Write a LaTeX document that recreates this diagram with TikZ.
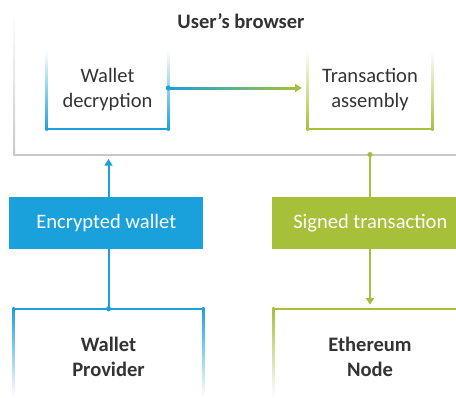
\documentclass[tikz,border=0pt]{standalone}
\usepackage{fontspec}
\setmainfont{Carlito}
\usetikzlibrary{arrows.meta,calc}
\definecolor{bl}{RGB}{26,160,219}
\definecolor{gr}{RGB}{166,192,58}
\definecolor{gy}{RGB}{200,200,200}
\definecolor{tx}{RGB}{51,51,51}
\begin{document}
\begin{tikzpicture}[x=0.75pt,y=-0.75pt,
  lbl/.style={font=\fontsize{15.4}{18.75}\selectfont, text=tx, align=center, inner sep=0pt},
  bld/.style={lbl, font=\fontsize{15.4}{18.75}\selectfont\bfseries},
  filled/.style={lbl, text=white, minimum width=#1, minimum height=39pt},
  ln/.style={line width=1.5pt},
  tip/.style={-{Triangle[width=6pt,length=5pt]}},
  dot/.style={fill=#1}]
\useasboundingbox (0,0) rectangle (456,397);

% browser frame
\node[bld] (ub) at (241,21) {User’s browser};
\coordinate (brl) at (14,154.5);
\coordinate (brr) at (470,154.5);
\shade[top color=white, bottom color=gy] (13,10) rectangle (15,155.5);
\draw[gy, ln] (brl) -- (brr);

% inner boxes
\node[lbl, minimum width=90.75pt, minimum height=59.25pt] (wd) at (107.5,89.5) {Wallet\\decryption};
\node[lbl, minimum width=93pt, minimum height=59.25pt] (ta) at (370,89.5) {Transaction\\assembly};

\foreach \n/\c in {wd/bl, ta/gr}{
  \shade[top color=white, bottom color=\c] ($(\n.north west)+(-1,0)$) rectangle ($(\n.south west)+(1,1)$);
  \shade[top color=white, bottom color=\c] ($(\n.north east)+(-1,0)$) rectangle ($(\n.south east)+(1,1)$);
  \draw[\c, ln] (\n.south west) -- (\n.south east);
}

% gradient connector
\coordinate (a1) at ($(wd.east)+(0,-1.5)$);
\coordinate (a2) at ($(ta.west)+(-6,-1.5)$);
\shade[left color=bl, right color=gr] ($(a1)+(0,-1)$) rectangle ($(a2)+(-5,1)$);
\draw[gr, ln, tip] ($(a2)+(-6,0)$) -- (a2);
\fill[bl] (a1) circle (1.9pt);

% filled labels
\node[filled=145.5pt, fill=bl] (ew) at (106.3,223) {Encrypted wallet};
\node[filled=147pt, fill=gr] (st) at (370.3,223) {Signed transaction};

% bottom boxes
\node[bld, minimum width=141.75pt, minimum height=72pt] (wp) at (108.5,357) {Wallet\\Provider};
\node[bld, minimum width=144pt, minimum height=72pt] (en) at (370,357) {Ethereum\\Node};

\foreach \n/\c in {wp/bl, en/gr}{
  \shade[top color=\c, bottom color=white] ($(\n.north west)+(-1,-1)$) rectangle ($(\n.north west)+(1,88)$);
  \shade[top color=\c, bottom color=white] ($(\n.north east)+(-1,-1)$) rectangle ($(\n.north east)+(1,88)$);
  \draw[\c, ln] (\n.north west) -- (\n.north east);
}

% blue connector
\coordinate (u1) at (108.5,159);
\draw[bl, ln] (wp.north) -- (wp.north |- ew.south);
\draw[bl, ln, tip] (wp.north |- ew.north) -- (u1);
\fill[bl] (wp.north) circle (1.9pt);

% green connector
\coordinate (gd) at (370,154.5);
\draw[gr, ln] (gd) -- (gd |- st.north);
\draw[gr, ln, tip] (gd |- st.south) -- ($(en.north)+(0,-4)$);
\fill[gr] (gd) circle (1.9pt);
\end{tikzpicture}
\end{document}
